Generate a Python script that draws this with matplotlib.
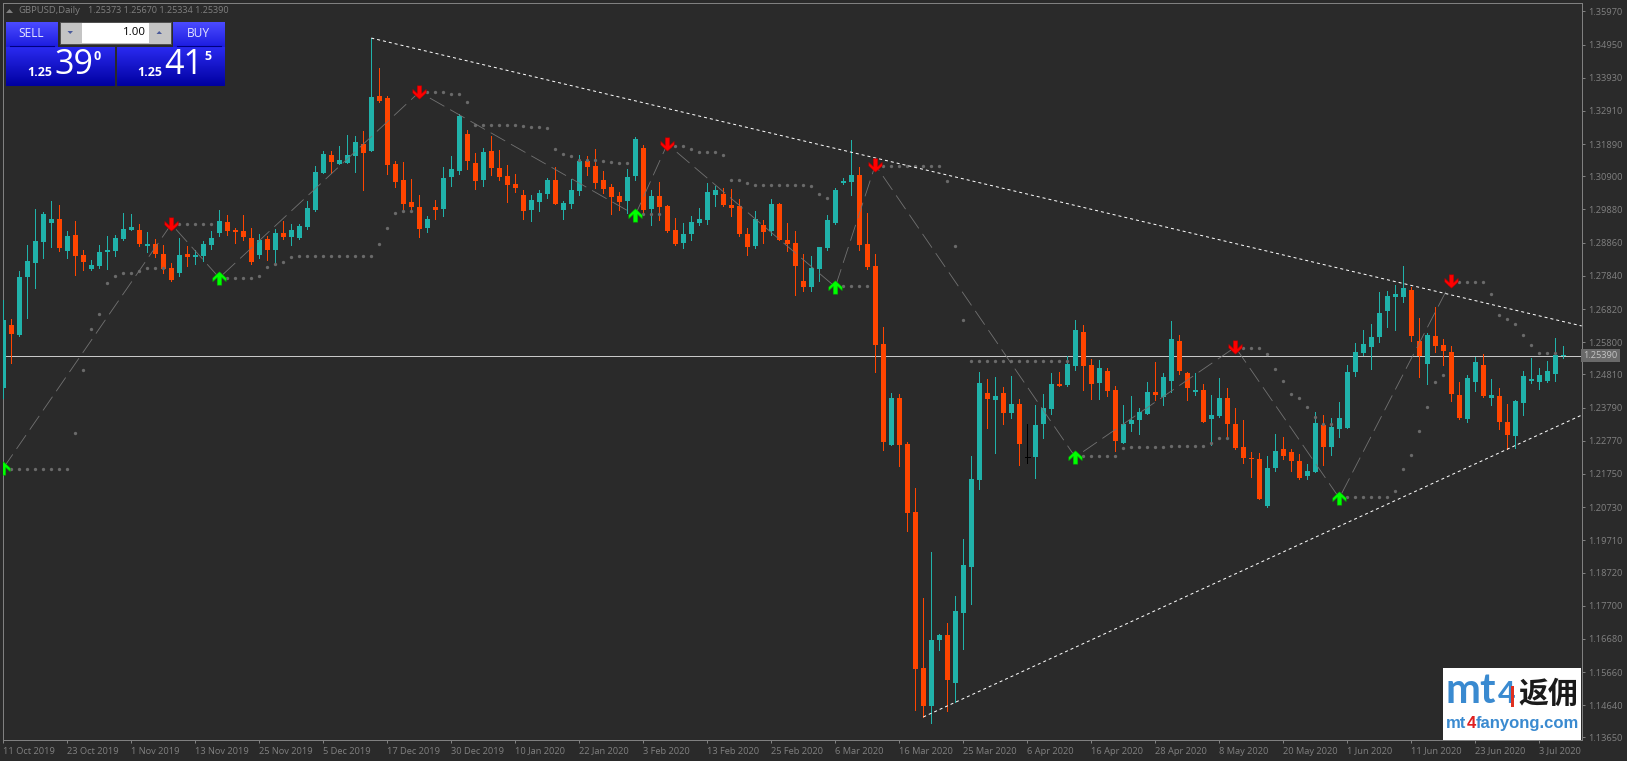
import numpy as np
import matplotlib
matplotlib.use("Agg")
import matplotlib.pyplot as plt
from matplotlib.path import Path
from matplotlib.patches import Rectangle, Polygon

W, H = 1627, 761
BG = "#2a2a2a"
AXC = "#808080"
UP = "#20b2aa"
DOWN = "#ff4500"
DOJI = "#000000"
FONT = "Open Sans"

# GBPUSD daily prices, in units of 0.0001
opens = [12439,12633,12602,12780,12824,12888,12946,12959,12860,12910,12848,12805,12814,12857,12860,12897,12925,12925,12876,12882,
12851,12808,12793,12851,12842,12845,12879,12916,12950,12925,12922,12900,12848,12897,12863,12916,12903,12900,12934,12986,
13100,13156,13128,13131,13152,13189,13168,13337,13331,13128,13079,13011,12996,12931,12996,12990,13088,13106,13220,13131,
13079,13168,13116,13091,13066,13033,12986,13011,13036,13079,12986,13005,13045,13137,13122,13079,13057,13029,13014,13091,
13177,12990,13029,12999,12925,12885,12913,12946,12956,13033,13036,13002,12999,12913,12876,12940,12922,13005,12894,12885,
12768,12750,12805,12870,12946,13069,13073,13094,12882,12814,12575,12264,12409,12267,12058,11579,11462,11665,11680,11532,
11748,11889,12156,12424,12402,12424,12362,12390,12227,12227,12329,12375,12452,12449,12507,12611,12510,12455,12492,12433,
12270,12329,12341,12359,12427,12412,12461,12584,12485,12427,12433,12344,12353,12409,12329,12258,12224,12221,12077,12193,
12252,12243,12215,12169,12181,12326,12258,12313,12316,12488,12547,12565,12596,12676,12719,12719,12741,12584,12513,12599,
12571,12550,12418,12344,12458,12510,12409,12415,12335,12292,12393,12461,12458,12461,12482,12538]
closes = [12648,12605,12780,12830,12891,12974,12959,12870,12907,12845,12827,12817,12857,12863,12900,12928,12934,12882,12882,12851,
12805,12771,12848,12842,12848,12882,12900,12953,12922,12919,12903,12827,12894,12863,12916,12903,12925,12937,12993,13103,
13159,13134,13140,13156,13195,13162,13334,13322,13125,13073,13005,12996,12928,12959,12986,13085,13112,13275,13137,13076,
13165,13116,13088,13063,13054,12983,13017,13039,13079,13005,13008,13048,13137,13119,13069,13051,13026,13011,13088,13205,
12986,13029,12996,12922,12882,12913,12950,12959,13042,13048,13002,12993,12913,12873,12959,12919,13005,12894,12882,12814,
12750,12808,12873,12956,13048,13076,13094,12879,12811,12571,12273,12409,12264,12055,11575,11462,11665,11680,11542,11754,
11895,12160,12455,12405,12415,12362,12390,12267,12227,12326,12378,12452,12445,12513,12618,12507,12452,12501,12430,12276,
12329,12341,12366,12427,12418,12473,12590,12492,12439,12433,12335,12356,12409,12329,12255,12224,12221,12098,12193,12246,
12230,12215,12163,12184,12332,12258,12319,12347,12488,12550,12575,12596,12670,12722,12728,12747,12599,12538,12602,12568,
12553,12421,12347,12470,12519,12415,12418,12335,12295,12399,12476,12467,12479,12492,12541,12541]
highs = [12710,12651,12799,12879,12990,12980,13014,13002,12922,12953,12863,12833,12879,12907,12910,12977,12974,12943,12919,12897,
12879,12824,12900,12876,12863,12891,12922,12986,12971,12931,12971,12931,12913,12907,12928,12953,12943,12943,13014,13122,
13168,13168,13183,13217,13214,13229,13515,13423,13337,13137,13134,13082,13033,12968,13017,13119,13152,13282,13232,13162,
13177,13214,13171,13125,13097,13048,13033,13048,13085,13119,13014,13082,13156,13152,13174,13106,13066,13042,13112,13211,
13186,13048,13073,13002,12962,12946,12968,12993,13069,13060,13054,13051,13020,12931,12983,12956,13020,13008,12946,12922,
12851,12845,12873,12971,13054,13085,13202,13119,12977,12851,12627,12424,12421,12273,12132,11794,11935,11683,11717,11800,
11975,12230,12488,12467,12473,12442,12476,12405,12329,12387,12421,12485,12488,12538,12648,12633,12528,12525,12501,12445,
12387,12415,12378,12458,12519,12485,12645,12602,12488,12485,12452,12418,12470,12439,12378,12341,12243,12239,12230,12298,
12289,12252,12236,12206,12366,12356,12347,12396,12510,12578,12618,12636,12734,12737,12756,12814,12750,12654,12608,12688,
12590,12568,12458,12479,12535,12544,12467,12439,12390,12402,12492,12532,12501,12522,12593,12568]
lows = [12409,12516,12599,12654,12747,12839,12873,12860,12839,12787,12802,12802,12808,12805,12845,12894,12925,12876,12857,12842,
12793,12768,12784,12814,12820,12830,12867,12907,12910,12885,12894,12820,12839,12833,12827,12897,12879,12897,12928,12983,
13100,13100,13128,13131,13103,13048,13168,13318,13097,13057,12990,12980,12903,12919,12959,12968,13060,13097,13112,13051,
13060,13094,13079,13011,13042,12959,12953,12983,13023,13005,12959,12993,13033,13094,13054,13039,12974,12986,12977,13079,
12977,12940,12956,12919,12879,12870,12894,12940,12943,12999,12999,12968,12907,12848,12870,12885,12910,12894,12860,12725,
12737,12737,12768,12863,12943,13066,13033,12863,12805,12488,12249,12264,12200,12000,11449,11428,11409,11634,11446,11474,
11637,11775,12129,12316,12239,12329,12347,12203,12209,12163,12286,12359,12445,12445,12495,12433,12405,12405,12415,12246,
12270,12307,12298,12359,12402,12387,12427,12482,12402,12418,12335,12264,12350,12286,12252,12209,12166,12098,12073,12184,
12221,12184,12160,12160,12181,12203,12233,12289,12316,12476,12541,12498,12581,12627,12618,12704,12584,12473,12452,12550,
12510,12399,12344,12335,12430,12412,12387,12313,12252,12255,12356,12455,12436,12458,12461,12532]

# stop-and-reverse style dots: bar index and level
sar_bars = [1,2,3,4,5,6,7,8,9,10,11,12,13,14,15,16,17,18,19,20,22,23,24,25,26,28,29,30,31,32,33,34,35,36,37,38,39,40,41,42,43,44,45,46,47,48,49,50,51,
53,54,55,56,57,58,59,60,61,62,63,64,65,66,67,68,69,70,71,72,73,74,75,76,77,78,80,81,82,84,85,86,87,88,89,90,91,92,93,94,95,96,97,98,99,100,101,102,103,
105,106,107,108,110,111,112,113,114,115,116,117,118,119,120,121,122,123,124,125,126,127,128,129,130,131,132,133,135,136,137,138,139,140,141,142,143,144,145,146,147,148,149,150,151,152,153,
155,156,157,158,159,160,161,162,163,164,165,166,168,169,170,171,172,173,174,175,176,177,178,179,180,182,183,184,185,186,187,188,189,190,191,192,193,194]
sar_levels = [12190,12190,12190,12190,12190,12190,12190,12190,12301,12495,12621,12667,12762,12784,12793,12793,12799,12808,12808,12808,12943,12943,12943,12943,12943,12777,12777,12777,12777,12784,12811,12820,12827,12842,12845,12845,12845,12845,12845,12845,12845,12845,12845,12845,12882,12931,12977,12983,12983,
13349,13349,13349,13343,13343,13318,13248,13248,13248,13248,13248,13248,13245,13242,13242,13239,13174,13159,13152,13140,13140,13140,13137,13134,13131,13131,12974,12974,12974,13183,13183,13174,13165,13165,13165,13156,13079,13079,13069,13063,13063,13063,13063,13063,13063,13063,13060,13036,13023,
12753,12753,12753,12753,13122,13122,13122,13122,13122,13122,13122,13122,13076,12876,12648,12522,12522,12522,12522,12522,12522,12522,12522,12522,12522,12522,12522,12522,12230,12230,12230,12230,12230,12255,12258,12258,12258,12258,12258,12261,12261,12261,12261,12261,12270,12286,12286,
12562,12562,12562,12544,12498,12461,12421,12409,12381,12350,12329,12329,12104,12104,12104,12104,12104,12104,12123,12190,12233,12307,12381,12458,12479,12765,12765,12765,12765,12728,12664,12651,12636,12602,12571,12547,12547,12547]

# zigzag turning points, alternating low / high, starting with a low
zigzag_bars = [0,21,27,52,79,83,104,109,134,154,167,181]
zigzag_levels = [12193,12943,12778,13349,12971,13189,12750,13125,12227,12565,12101,12768]

# trend lines (bar index, level)
upper_bars = [46,197.3]
upper_levels = [13515,12630]
lower_bars = [115,197.3]
lower_levels = [11428,12356]

last_price = 1.25390
y_ticks = [1.35970,1.34950,1.33930,1.32910,1.31890,1.30900,1.29880,1.28860,1.27840,1.26820,1.25800,1.24810,
           1.23790,1.22770,1.21750,1.20730,1.19710,1.18720,1.17700,1.16680,1.15660,1.14640,1.13650]
x_labels = ["11 Oct 2019","23 Oct 2019","1 Nov 2019","13 Nov 2019","25 Nov 2019","5 Dec 2019","17 Dec 2019","30 Dec 2019",
            "10 Jan 2020","22 Jan 2020","3 Feb 2020","13 Feb 2020","25 Feb 2020","6 Mar 2020","16 Mar 2020","25 Mar 2020",
            "6 Apr 2020","16 Apr 2020","28 Apr 2020","8 May 2020","20 May 2020","1 Jun 2020","11 Jun 2020","23 Jun 2020","3 Jul 2020"]

o = np.array(opens) / 1e4
c = np.array(closes) / 1e4
h = np.array(highs) / 1e4
l = np.array(lows) / 1e4
bars = np.arange(len(o))
px = 0.72  # one pixel in points at dpi 100

fig = plt.figure(figsize=(W / 100, H / 100), dpi=100, facecolor=BG)
L, R, T, B = 2.5, 1581.5, 2.5, 740.0
ax = fig.add_axes([L / W, 1 - B / H, (R - L) / W, (B - T) / H], facecolor=BG)
ax.set_xlim((L - 3.3) / 8, (R - 3.3) / 8)
ax.set_ylim(1.3632 - 0.00030741 * B, 1.3632 - 0.00030741 * T)

colors = np.where(c > o, UP, np.where(c < o, DOWN, DOJI))
ax.axhline(last_price, color="#c8c8c8", lw=px, zorder=1, antialiased=False)
ax.vlines(bars, l, h, colors=colors, lw=px, zorder=3, antialiased=False)
bodies = np.where(o == c, 0.00006, np.abs(c - o))
ax.bar(bars, bodies, bottom=np.minimum(o, c), width=0.625, color=colors, lw=0, zorder=3, antialiased=False)
# doji tick
doji = o == c
ax.hlines(o[doji], bars[doji] - 0.3, bars[doji] + 0.3, colors=DOJI, lw=px, zorder=3, antialiased=False)

ax.plot(sar_bars, np.array(sar_levels) / 1e4, ls="none", marker="o", ms=2.4, mfc="#6a6a6a", mec="none", zorder=4)
ax.plot(zigzag_bars, np.array(zigzag_levels) / 1e4, color="#727272", lw=0.6, ls=(0, (20, 8)), zorder=4)
ax.plot(upper_bars, np.array(upper_levels) / 1e4, color="white", lw=px, ls=(0, (3, 3)), zorder=4)
ax.plot(lower_bars, np.array(lower_levels) / 1e4, color="white", lw=px, ls=(0, (3, 3)), zorder=4)

arrow = [(0, 6.5), (6.5, 0.5), (6.5, -3), (2.2, 1), (2.2, -6.5), (-2.2, -6.5), (-2.2, 1), (-6.5, -3), (-6.5, 0.5), (0, 6.5)]
up_m = Path(arrow)
dn_m = Path([(x, -y) for x, y in arrow])
ax.plot(zigzag_bars[0::2], np.array(zigzag_levels[0::2]) / 1e4, ls="none", marker=up_m, ms=9.6, mfc="#00ff00", mec="#00b000", mew=0.4, zorder=5)
ax.plot(zigzag_bars[1::2], np.array(zigzag_levels[1::2]) / 1e4, ls="none", marker=dn_m, ms=9.6, mfc="#ff0000", mec="#b00000", mew=0.4, zorder=5)

for s in ax.spines.values():
    s.set_color(AXC)
    s.set_linewidth(px)
ax.yaxis.tick_right()
ax.set_yticks(y_ticks, [f"{v:.5f}" for v in y_ticks])
ax.set_xticks(np.arange(len(x_labels)) * 8, x_labels)
ax.tick_params(axis="both", colors=AXC, length=2.2, width=px, labelsize=6.7, pad=2.5, labelcolor=AXC)
for t in ax.get_xticklabels():
    t.set_ha("left")
    t.set_fontfamily(FONT)
for t in ax.get_yticklabels():
    t.set_fontfamily(FONT)
ax.text(1.0012, last_price, f"{last_price:.5f}", transform=ax.get_yaxis_transform(), color="#c4c4c4", fontsize=6.7,
        family=FONT, va="center", ha="left", zorder=6, clip_on=False,
        bbox=dict(boxstyle="square,pad=0.22", fc="#6a6a6a", ec="none"))

# chrome overlay in pixel coordinates
ov = fig.add_axes([0, 0, 1, 1], facecolor="none", zorder=10)
ov.axis("off")


def grad(x0, y0, x1, y1, top, bottom):
    rgb = np.linspace(matplotlib.colors.to_rgb(top), matplotlib.colors.to_rgb(bottom), 64)[:, None, :]
    ov.imshow(rgb, extent=(x0, x1, y1, y0), aspect="auto", interpolation="bilinear", zorder=2)


def txt(x, y, s, size, color="white", ha="left", va="center", weight="normal", family=FONT):
    return ov.text(x, y, s, fontsize=size, color=color, ha=ha, va=va, fontweight=weight, family=family, zorder=4)


# header
ov.add_patch(Polygon([(6, 13), (13, 13), (9.5, 9)], fc=AXC, ec="none"))
txt(18.3, 10.5, "GBPUSD,Daily", 6.8, AXC)
txt(88, 10.5, "1.25373 1.25670 1.25334 1.25390", 6.5, AXC)

# trade panel
grad(6, 22.3, 58, 47, "#4b4bff", "#1c1ce0")
grad(173, 22.3, 225, 47, "#4b4bff", "#1c1ce0")
grad(6, 47, 115, 86, "#2a2af0", "#0000a0")
grad(117, 47, 225, 86, "#2a2af0", "#0000a0")
ov.add_patch(Rectangle((60, 22), 111, 22, fc="#c4c4c4", ec="#505050", lw=0.7, zorder=3))
grad(61, 23, 81, 43, "#e8e8e8", "#b4b4b4")
grad(150, 23, 170, 43, "#e8e8e8", "#b4b4b4")
ov.add_patch(Rectangle((82, 23), 67, 20, fc="white", ec="none", zorder=3))
ov.add_patch(Polygon([(67.5, 31), (73, 31), (70.2, 34)], fc="#4a5a9a", ec="none", zorder=4))
ov.add_patch(Polygon([(156.5, 34), (162, 34), (159.2, 31)], fc="#4a5a9a", ec="none", zorder=4))
ov.plot([10, 54], [45.5, 45.5], color="#000080", lw=0.8, zorder=4)
ov.plot([177, 221], [45.5, 45.5], color="#000080", lw=0.8, zorder=4)
txt(31, 33.2, "SELL", 8.6, "#e6e6ff", ha="center")
txt(198.5, 33.2, "BUY", 8.6, "#e6e6ff", ha="center")
txt(146, 32.8, "1.00", 8.2, "black", ha="right")
txt(27, 72.5, "1.25", 9, weight="bold")
txt(54, 64.5, "39", 24.5)
txt(94, 56.5, "0", 9, weight="bold")
txt(137, 72.5, "1.25", 9, weight="bold")
txt(164, 64.5, "41", 24.5)
txt(204, 56.5, "5", 9, weight="bold")

# watermark
BLUE = "#3a8ad0"
ov.add_patch(Rectangle((1443, 668), 138, 72, fc="white", ec="none", zorder=1))
txt(1446, 691, "mt", 30, BLUE, weight="bold", family="Lato")
txt(1498, 694, "4", 22, BLUE, weight="bold", family="Lato")
ov.add_patch(Rectangle((1511, 686), 3.5, 21, fc="#e03020", ec="none", zorder=5))
txt(1518, 694, "返佣", 21.5, "#1a1a1a", weight="bold", family="Noto Sans CJK SC")
txt(1446, 723.5, "mt", 12, BLUE, weight="bold", family="Liberation Sans")
txt(1466.5, 723.5, "4", 12, "#e02020", weight="bold", family="Liberation Sans")
txt(1475.7, 723.5, "fanyong.com", 12, BLUE, weight="bold", family="Liberation Sans")

ov.set_xlim(0, W)
ov.set_ylim(H, 0)

fig.savefig("out.png", dpi=100, facecolor=BG)
